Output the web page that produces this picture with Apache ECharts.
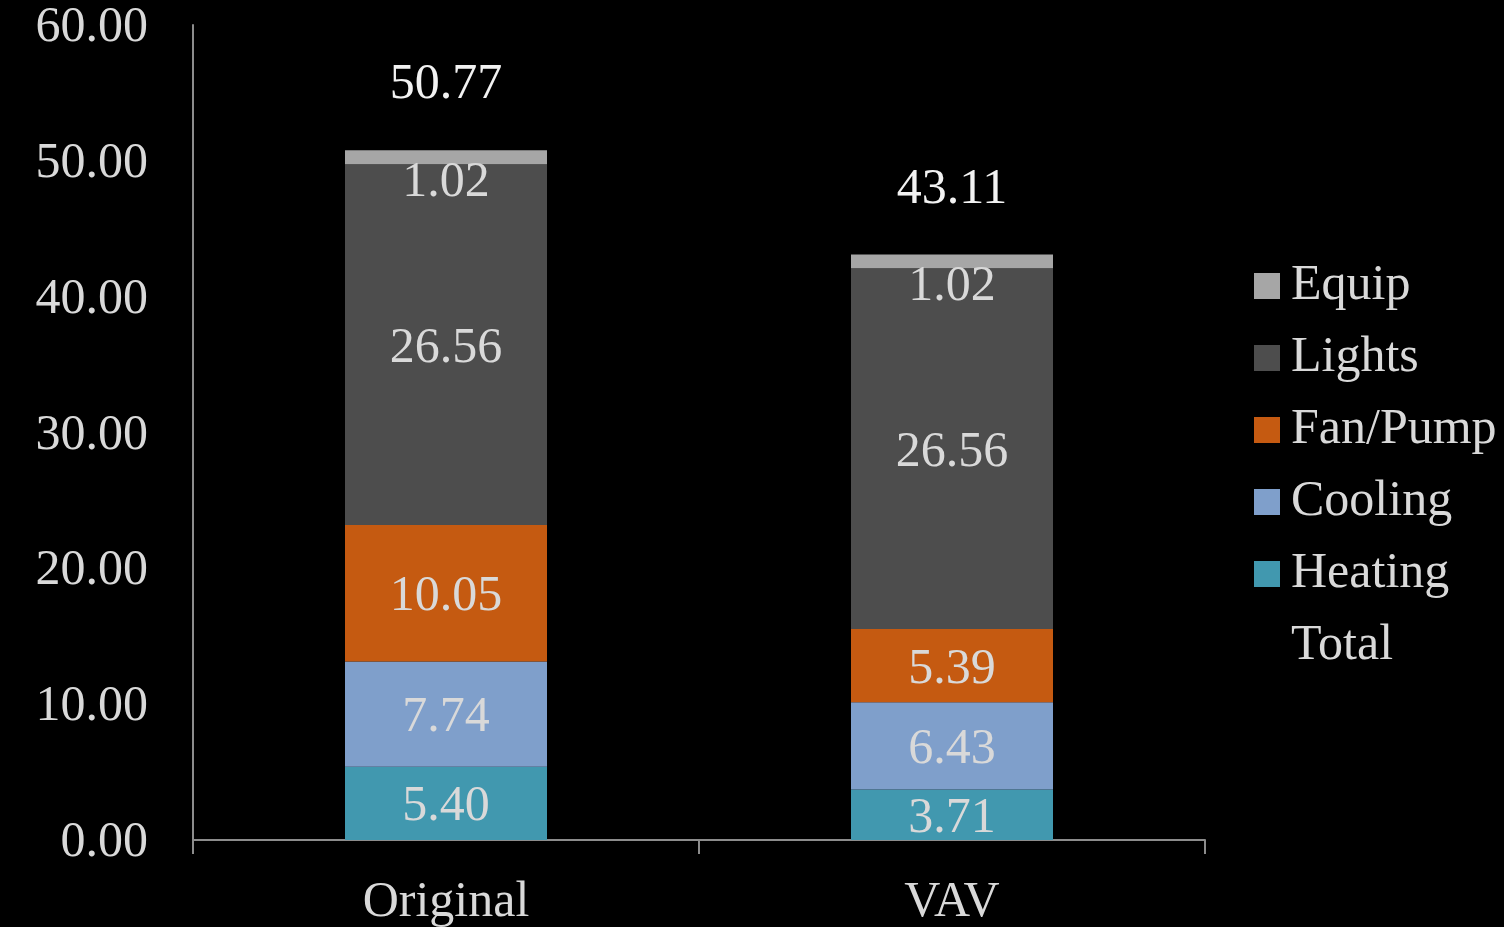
<!DOCTYPE html>
<html>
<head>
<meta charset="utf-8">
<script src="https://cdn.jsdelivr.net/npm/echarts@6/dist/echarts.min.js"></script>
<style>
  html, body { margin: 0; padding: 0; background: #000; }
  #chart { width: 1504px; height: 927px; }
</style>
</head>
<body>
<div id="chart"></div>
<script>
// categories and values
const categories = ['Original', 'VAV'];
const heating = [5.40, 3.71];
const cooling = [7.74, 6.43];
const fanPump = [10.05, 5.39];
const lights = [26.56, 26.56];
const equip = [1.02, 1.02];
const totals = [50.77, 43.11];
const yTicks = { min: 0, max: 60, interval: 10 };

const FONT = '"Liberation Serif", "Times New Roman", serif';
const labelColor = '#d9d9d9';

// one stacked segment
const seg = (name, data, color, extraLabel) => ({
  name,
  type: 'bar',
  stack: 'energy',
  data,
  barWidth: 202,
  itemStyle: { color },
  label: Object.assign({
    show: true,
    position: 'inside',
    color: labelColor,
    fontFamily: FONT,
    fontSize: 50,
    offset: [0, 4],
    formatter: (p) => p.value.toFixed(2)
  }, extraLabel || {})
});

const chart = echarts.init(document.getElementById('chart'));

chart.setOption({
  backgroundColor: '#000',
  animation: false,
  grid: { left: 193, right: 299, top: 25, bottom: 87, outerBoundsMode: 'none' },
  legend: {
    orient: 'vertical',
    left: 1254,
    top: 261,
    padding: 0,
    icon: 'rect',
    itemWidth: 26,
    itemHeight: 26,
    itemGap: 22,
    data: ['Equip', 'Lights', 'Fan/Pump', 'Cooling', 'Heating', 'Total'],
    textStyle: {
      color: labelColor,
      fontFamily: FONT,
      fontSize: 50,
      lineHeight: 49.5,
      padding: [0, 0, 0, 6]
    }
  },
  xAxis: {
    type: 'category',
    data: categories,
    axisLine: { lineStyle: { color: '#8c8c8c', width: 2 } },
    axisTick: { show: true, length: 14, lineStyle: { color: '#8c8c8c', width: 2 } },
    axisLabel: {
      color: labelColor,
      fontFamily: FONT,
      fontSize: 50,
      margin: 38
    }
  },
  yAxis: {
    type: 'value',
    min: yTicks.min,
    max: yTicks.max,
    interval: yTicks.interval,
    axisLine: { show: true, lineStyle: { color: '#8c8c8c', width: 2 } },
    axisTick: { show: false },
    splitLine: { show: false },
    axisLabel: {
      color: labelColor,
      fontFamily: FONT,
      fontSize: 50,
      margin: 45,
      verticalAlign: 'top',
      lineHeight: 6,
      formatter: (v) => v.toFixed(2)
    }
  },
  series: [
    seg('Heating', heating, '#4198af'),
    seg('Cooling', cooling, '#7f9fcb'),
    seg('Fan/Pump', fanPump, '#c55a11'),
    seg('Lights', lights, '#4d4d4d'),
    seg('Equip', equip, '#a6a6a6', { offset: [0, 26] }),
    {
      name: 'Total',
      type: 'bar',
      data: totals,
      barWidth: 202,
      barGap: '-100%',
      itemStyle: { color: 'rgba(0,0,0,0)' },
      z: 1,
      label: {
        show: true,
        position: 'top',
        distance: 40,
        color: '#f2f2f2',
        fontFamily: FONT,
        fontSize: 50,
        formatter: (p) => p.value.toFixed(2)
      }
    }
  ]
});
</script>
</body>
</html>
